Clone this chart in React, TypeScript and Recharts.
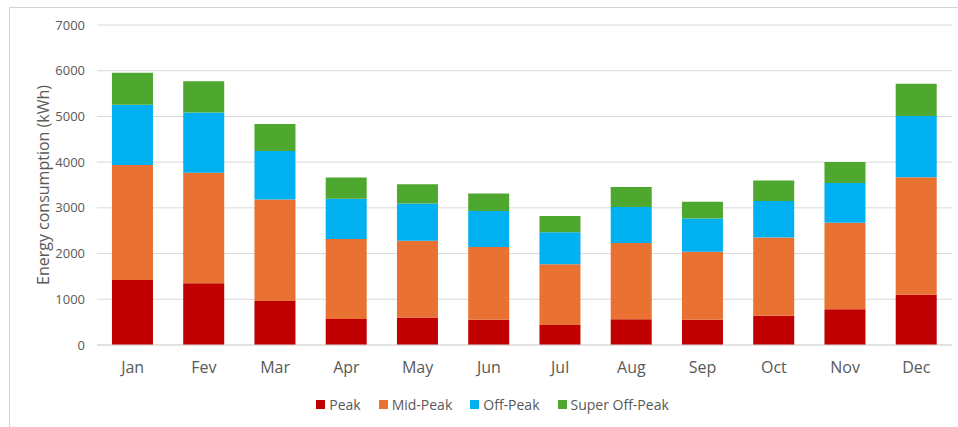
import React from 'react';
import { BarChart, Bar, XAxis, YAxis, CartesianGrid, Legend } from 'recharts';

const months = ['Jan', 'Fev', 'Mar', 'Apr', 'May', 'Jun', 'Jul', 'Aug', 'Sep', 'Oct', 'Nov', 'Dec'];
const peak = [1420, 1350, 960, 570, 600, 550, 435, 565, 550, 640, 780, 1100];
const midPeak = [2520, 2420, 2225, 1750, 1680, 1595, 1330, 1665, 1490, 1710, 1895, 2570];
const offPeak = [1315, 1315, 1060, 880, 815, 785, 700, 790, 725, 800, 870, 1340];
const superOffPeak = [700, 685, 590, 465, 420, 385, 355, 435, 370, 450, 460, 705];
const yTicks = [0, 1000, 2000, 3000, 4000, 5000, 6000, 7000];

const series = [
  { key: 'peak', name: 'Peak', color: '#C00000' },
  { key: 'mid', name: 'Mid-Peak', color: '#E97132' },
  { key: 'off', name: 'Off-Peak', color: '#00B0F0' },
  { key: 'super', name: 'Super Off-Peak', color: '#4EA72E' },
];

const data = months.map((m, i) => ({
  month: m,
  peak: peak[i],
  mid: midPeak[i],
  off: offPeak[i],
  super: superOffPeak[i],
}));

const FONT = '"Open Sans", sans-serif';
const TEXT = '#595959';
const FRAME = '#D4D4D4';

const LegendRow = () => (
  <div
    style={{
      display: 'flex',
      justifyContent: 'center',
      gap: 18,
      paddingLeft: 33,
      fontFamily: FONT,
      fontSize: 14,
      color: TEXT,
    }}
  >
    {series.map((s) => (
      <div key={s.key} style={{ display: 'flex', alignItems: 'center', gap: 4 }}>
        <span style={{ width: 9, height: 9, background: s.color, display: 'inline-block' }} />
        <span>{s.name}</span>
      </div>
    ))}
  </div>
);

export default function App() {
  return (
    <div
      style={{
        position: 'absolute',
        left: 0,
        top: 0,
        width: 958,
        height: 427,
        overflow: 'hidden',
        background: '#fff',
      }}
    >
      <BarChart
        width={958}
        height={427}
        data={data}
        margin={{ top: 25, right: 6, left: 0, bottom: 13 }}
        barCategoryGap="21%"
      >
        <CartesianGrid vertical={false} stroke="#D9D9D9" />
        <XAxis
          dataKey="month"
          height={50}
          tickLine={false}
          axisLine={{ stroke: '#D9D9D9' }}
          tickMargin={11}
          tick={{ fill: TEXT, fontSize: 16, fontFamily: FONT }}
        />
        <YAxis
          width={97}
          domain={[0, 7000]}
          ticks={yTicks}
          tickLine={false}
          axisLine={false}
          tickMargin={6}
          tick={{ fill: TEXT, fontSize: 13, fontFamily: FONT }}
          label={{
            value: 'Energy consumption (kWh)',
            angle: -90,
            position: 'insideLeft',
            offset: 43,
            style: { textAnchor: 'middle', fill: TEXT, fontSize: 16, fontFamily: FONT },
          }}
        />
        <Legend verticalAlign="bottom" content={<LegendRow />} />
        {series.map((s) => (
          <Bar key={s.key} dataKey={s.key} name={s.name} stackId="a" fill={s.color} isAnimationActive={false} />
        ))}
      </BarChart>
      {/* chart area frame: top and left edges, the rest runs off the page */}
      <div style={{ position: 'absolute', left: 9, top: 7, width: 949, height: 1, background: FRAME, zIndex: 2 }} />
      <div style={{ position: 'absolute', left: 9, top: 7, width: 1, height: 420, background: FRAME, zIndex: 2 }} />
    </div>
  );
}
